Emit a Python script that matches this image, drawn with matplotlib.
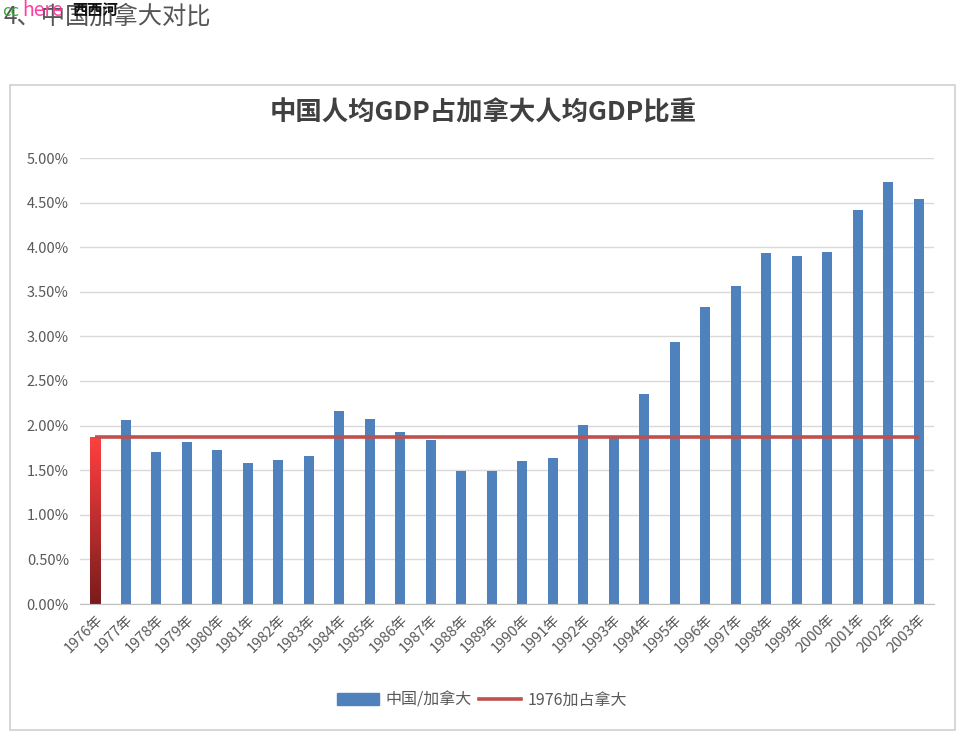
import matplotlib
matplotlib.use("Agg")
import matplotlib.pyplot as plt
import numpy as np
from matplotlib.patches import Rectangle
from matplotlib.lines import Line2D
from matplotlib.ticker import PercentFormatter
from matplotlib.colors import LinearSegmentedColormap

plt.rcParams['font.family'] = ['Noto Sans CJK SC', 'DejaVu Sans']

years = [f"{y}年" for y in range(1976, 2004)]
ratio = [1.87, 2.06, 1.70, 1.82, 1.73, 1.58, 1.61, 1.66, 2.16, 2.07, 1.93, 1.84,
         1.49, 1.49, 1.60, 1.64, 2.01, 1.86, 2.35, 2.94, 3.33, 3.57, 3.93, 3.90,
         3.95, 4.42, 4.73, 4.54]
ratio = [v / 100 for v in ratio]
baseline = [ratio[0]] * len(years)

title = "中国人均GDP占加拿大人均GDP比重"
series_bar = "中国/加拿大"
series_line = "1976加占拿大"

fig = plt.figure(figsize=(9.67, 7.46), dpi=100)
fig.patch.set_facecolor('white')

# outer chart frame
frame = Rectangle((10 / 967, 1 - 730 / 746), 945 / 967, 645 / 746, transform=fig.transFigure,
                  fill=False, edgecolor='#D0D0D0', linewidth=1.2)
fig.add_artist(frame)

# header text with watermark overlay
fig.text(4 / 967, 1 - 17 / 746, "4、中国加拿大对比", fontsize=17.5, color='#555555', va='center', ha='left')
fig.text(2 / 967, 1 - 11 / 746, "cc", fontsize=12, color='#3aa53a', va='center', ha='left')
fig.text(22 / 967, 1 - 11 / 746, "here", fontsize=14, color='#ff3fa0', va='center', ha='left')
fig.text(72 / 967, 1 - 10 / 746, "西西河", fontsize=11, color='#111111', va='center', ha='left', fontweight='bold')

ax = fig.add_axes([80 / 967, 1 - 604 / 746, 854 / 967, 446 / 746])
x = np.arange(len(years))
bars = ax.bar(x, ratio, width=0.34, color='#4F81BD', zorder=2)

# gradient for the first bar
b0 = bars[0]
b0.set_facecolor('none')
grad = np.linspace(0, 1, 256).reshape(-1, 1)
cmap = LinearSegmentedColormap.from_list('rg', ['#7a1c1c', '#ff4040'])
bx, by = b0.get_x(), b0.get_y()
bw, bh = b0.get_width(), b0.get_height()
im = ax.imshow(grad, extent=(bx, bx + bw, by, by + bh), origin='lower', cmap=cmap,
               aspect='auto', zorder=2)
im.set_clip_path(b0)

ax.plot(x, baseline, color='#C0504D', linewidth=2.6, zorder=3, solid_capstyle='butt')

ax.set_xlim(-0.5, len(years) - 0.5)
ax.set_ylim(0, 0.05)
ax.set_yticks(np.arange(0, 0.0501, 0.005))
ax.yaxis.set_major_formatter(PercentFormatter(1.0, decimals=2))
ax.grid(axis='y', color='#D9D9D9', linewidth=1, zorder=0)
ax.set_axisbelow(True)
for s in ['top', 'right', 'left']:
    ax.spines[s].set_visible(False)
ax.spines['bottom'].set_color('#BFBFBF')
ax.tick_params(axis='y', length=0, labelsize=10.5, labelcolor='#595959', pad=8)
ax.set_xticks(x)
ax.set_xticklabels(years, rotation=45, ha='right', rotation_mode='anchor', fontsize=10.5, color='#595959')
ax.tick_params(axis='x', length=0, pad=6)

fig.text(483 / 967, 1 - 113 / 746, title, fontsize=19, fontweight='bold', color='#404040',
         ha='center', va='center')

handles = [Rectangle((0, 0), 1, 1, color='#4F81BD'),
           Line2D([0], [0], color='#C0504D', linewidth=2.6)]
fig.legend(handles, [series_bar, series_line], loc='center', bbox_to_anchor=(482 / 967, 1 - 700 / 746),
           ncol=2, frameon=False, fontsize=11.5, labelcolor='#595959', handlelength=2.6,
           columnspacing=0.5, handletextpad=0.4)

fig.savefig('out.png', dpi=100, facecolor='white')
